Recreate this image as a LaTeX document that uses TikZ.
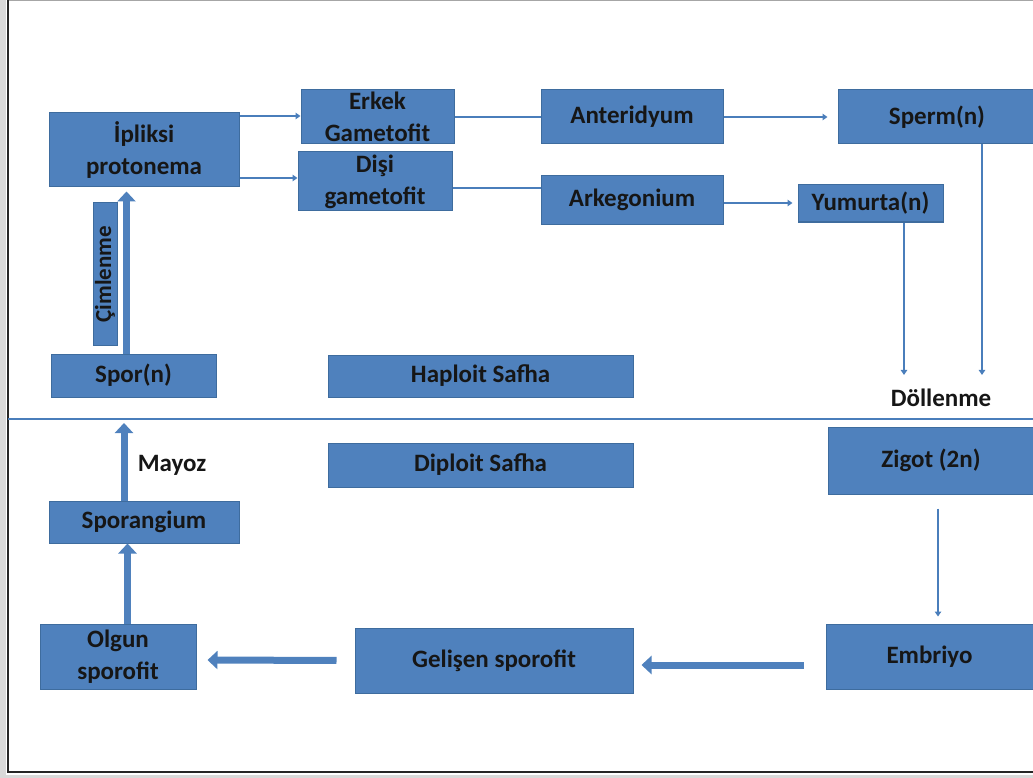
\documentclass[tikz,border=0pt]{standalone}
\usepackage{fontspec}
\setmainfont{Carlito}
\usetikzlibrary{arrows.meta,positioning,calc}
\definecolor{stageblue}{HTML}{4F81BD}
\definecolor{stageedge}{HTML}{3E6C9E}
\definecolor{linkblue}{HTML}{4A7EBB}
\definecolor{inkgray}{HTML}{161616}

\begin{document}
\begin{tikzpicture}[x=1pt,y=-1pt,
    font=\fontsize{25}{32}\selectfont\bfseries,
    stage/.style={draw=stageedge,fill=stageblue,line width=1pt,text=inkgray,align=center,inner sep=0pt},
    label/.style={text=inkgray,inner sep=0pt},
    thinlink/.style={draw=linkblue,line width=2.6pt},
    thinarrow/.style={thinlink,-{Triangle[length=5pt,width=6.5pt]}},
    bigarrow/.style={draw=stageblue,line width=7pt,-{Triangle[length=10pt,width=18pt]}}
  ]
  \useasboundingbox (0,0) rectangle (1033,778);
  \clip (0,0) rectangle (1033,778);

  % page frame
  \fill[gray!30] (0,0) rectangle (6,778);
  \fill[gray!30] (0,775) rectangle (1033,778);
  \draw[gray!70,line width=1pt] (8,0.5) -- (1033,0.5);
  \draw[black!85,line width=2.5pt] (8,0) -- (8,772) -- (1033,772);

  % haploid part
  \node[stage,minimum width=190pt,minimum height=74pt] (ipliksi) at (144,150) {İpliksi\\protonema};
  \node[stage,minimum width=153pt,minimum height=54pt] (erkek) at (377.5,117) {Erkek\\Gametofit};
  \node[stage,minimum width=154pt,minimum height=59pt] (disi) at (375,181.5) {Dişi\\gametofit};
  \node[stage,minimum width=182pt,minimum height=54pt] (anter) at (632,117) {Anteridyum};
  \node[stage,minimum width=182pt,minimum height=48pt] (arkeg) at (632,200) {Arkegonium};
  \node[stage,minimum width=198pt,minimum height=54pt] (sperm) at (937,117) {Sperm(n)};
  \node[stage,minimum width=145pt,minimum height=37pt] (yumurta) at (870.5,203.5) {Yumurta(n)};
  \node[stage,rotate=90,minimum width=142pt,minimum height=24pt,font=\fontsize{23}{24}\selectfont\bfseries] (cimlenme) at (105,274) {Çimlenme};
  \node[stage,minimum width=165pt,minimum height=43pt] (spor) at (133.5,375.5) {Spor(n)};
  \node[stage,minimum width=305pt,minimum height=42pt] (haploit) at (480.5,376) {Haploit Safha};
  \node[label] (dollenme) at (941,398) {Döllenme};

  % divider
  \coordinate (divl) at (8,419);
  \coordinate (divr) at (1033,419);
  \draw[linkblue,line width=1.5pt] (divl) -- (divr);

  % diploid part
  \node[stage,minimum width=305pt,minimum height=44pt] (diploit) at (480.5,465) {Diploit Safha};
  \node[stage,minimum width=206pt,minimum height=67pt] (zigot) at (931,460.5) {Zigot (2n)};
  \node[stage,minimum width=190pt,minimum height=42pt] (sporangium) at (144,522) {Sporangium};
  \node[label] (mayoz) at (172,465) {Mayoz};
  \node[stage,minimum width=156pt,minimum height=65pt] (olgun) at (118,656.5) {Olgun\\sporofit};
  \node[stage,minimum width=278pt,minimum height=65pt] (gelisen) at (494,660.5) {Gelişen sporofit};
  \node[stage,minimum width=207pt,minimum height=65pt] (embriyo) at (929.5,656.5) {Embriyo};

  % thin links
  \draw[thinarrow] ([yshift=34pt]ipliksi.east) -- ([yshift=1pt]erkek.west);
  \draw[thinarrow] ([yshift=-28pt]ipliksi.east) -- ([yshift=3.5pt]disi.west);
  \draw[thinlink] (erkek.east) -- (anter.west);
  \draw[thinlink] ([yshift=-6.5pt]disi.east) -- ([yshift=12pt]arkeg.west);
  \draw[thinarrow,shorten >=10pt] (anter.east) -- (sperm.west);
  \draw[thinarrow,shorten >=5pt] ([yshift=-3pt]arkeg.east) -- ([yshift=0.5pt]yumurta.west);
  \draw[thinarrow,shorten >=14pt] ([xshift=33.5pt]yumurta.south) coordinate (ya) -- (ya |- dollenme.north);
  \draw[thinarrow,shorten >=14pt] ([xshift=45pt]sperm.south) coordinate (sa) -- (sa |- dollenme.north);
  \draw[thinarrow,shorten <=14pt,shorten >=7pt] ([xshift=7pt]zigot.south) coordinate (za) -- (za |- embriyo.north);

  % block arrows
  \draw[bigarrow,shorten >=4pt] ([xshift=-7pt]spor.north) coordinate (pa) -- (pa |- ipliksi.south);
  \draw[bigarrow,shorten >=4pt] ([xshift=-20pt]sporangium.north) coordinate (ma) -- (ma |- divl);
  \draw[bigarrow] ([xshift=9.5pt]olgun.north) coordinate (oa) -- (oa |- sporangium.south);
  \draw[bigarrow,shorten <=22pt,shorten >=8pt] ([yshift=-8.5pt]embriyo.west) -- ([yshift=-4.5pt]gelisen.east);
  \draw[bigarrow,shorten <=18pt,shorten >=11pt] (gelisen.west) -- ([yshift=-3.5pt]olgun.east);
\end{tikzpicture}
\end{document}
